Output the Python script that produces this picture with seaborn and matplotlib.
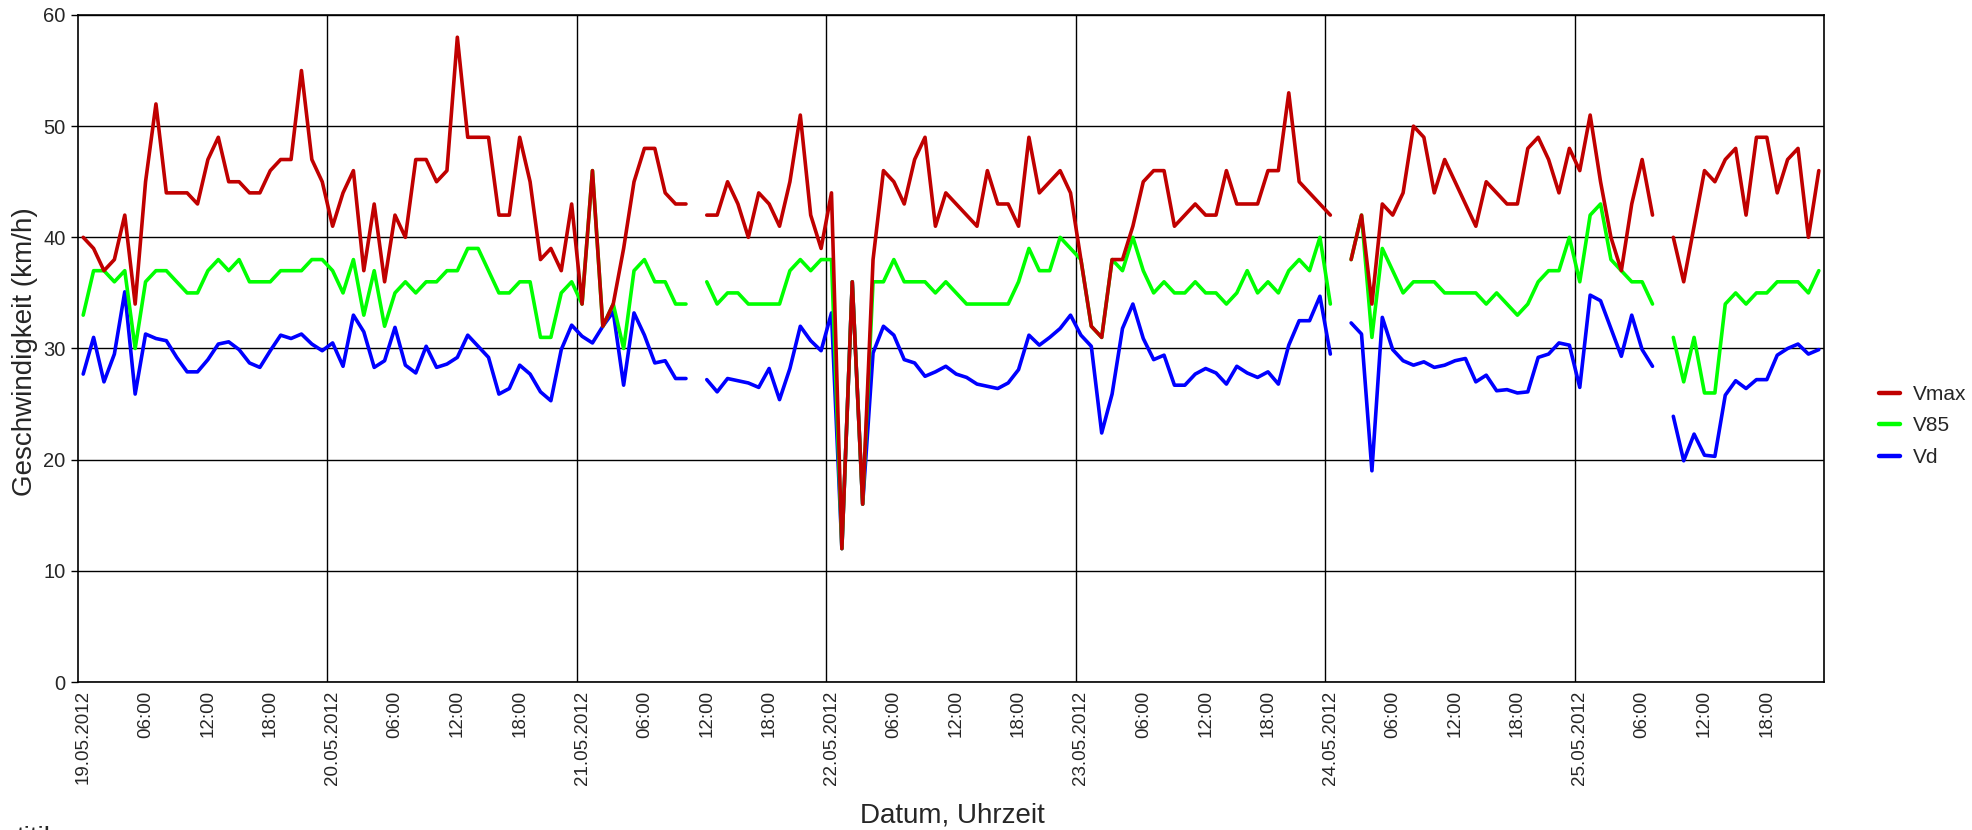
import numpy as np
import pandas as pd
import matplotlib
matplotlib.use("Agg")
import matplotlib.pyplot as plt
import seaborn as sns

sns.set_style("white")
plt.rcParams['font.family'] = ['Liberation Sans', 'DejaVu Sans']

nan = np.nan

# hourly values 19.05.2012 00:00 .. 25.05.2012 23:00, one row per day
vmax = [40, 39, 37, 38, 42, 34, 45, 52, 44, 44, 44, 43, 47, 49, 45, 45, 44, 44, 46, 47, 47, 55, 47, 45,
        41, 44, 46, 37, 43, 36, 42, 40, 47, 47, 45, 46, 58, 49, 49, 49, 42, 42, 49, 45, 38, 39, 37, 43,
        34, 46, 32, 34, 39, 45, 48, 48, 44, 43, 43, nan, 42, 42, 45, 43, 40, 44, 43, 41, 45, 51, 42, 39,
        44, 12, 36, 16, 38, 46, 45, 43, 47, 49, 41, 44, 43, 42, 41, 46, 43, 43, 41, 49, 44, 45, 46, 44,
        38, 32, 31, 38, 38, 41, 45, 46, 46, 41, 42, 43, 42, 42, 46, 43, 43, 43, 46, 46, 53, 45, 44, 43,
        42, nan, 38, 42, 34, 43, 42, 44, 50, 49, 44, 47, 45, 43, 41, 45, 44, 43, 43, 48, 49, 47, 44, 48,
        46, 51, 45, 40, 37, 43, 47, 42, nan, 40, 36, 41, 46, 45, 47, 48, 42, 49, 49, 44, 47, 48, 40, 46]

v85 = [33, 37, 37, 36, 37, 30, 36, 37, 37, 36, 35, 35, 37, 38, 37, 38, 36, 36, 36, 37, 37, 37, 38, 38,
       37, 35, 38, 33, 37, 32, 35, 36, 35, 36, 36, 37, 37, 39, 39, 37, 35, 35, 36, 36, 31, 31, 35, 36,
       34, 46, 32, 34, 30, 37, 38, 36, 36, 34, 34, nan, 36, 34, 35, 35, 34, 34, 34, 34, 37, 38, 37, 38,
       38, 12, 36, 16, 36, 36, 38, 36, 36, 36, 35, 36, 35, 34, 34, 34, 34, 34, 36, 39, 37, 37, 40, 39,
       38, 32, 31, 38, 37, 40, 37, 35, 36, 35, 35, 36, 35, 35, 34, 35, 37, 35, 36, 35, 37, 38, 37, 40,
       34, nan, 38, 42, 31, 39, 37, 35, 36, 36, 36, 35, 35, 35, 35, 34, 35, 34, 33, 34, 36, 37, 37, 40,
       36, 42, 43, 38, 37, 36, 36, 34, nan, 31, 27, 31, 26, 26, 34, 35, 34, 35, 35, 36, 36, 36, 35, 37]

vd = [27.7, 31.0, 27.0, 29.5, 35.1, 25.9, 31.3, 30.9, 30.7, 29.2, 27.9, 27.9, 29.0, 30.4, 30.6, 29.9, 28.7, 28.3, 29.8, 31.2, 30.9, 31.3, 30.4, 29.8,
      30.5, 28.4, 33.0, 31.5, 28.3, 28.9, 31.9, 28.5, 27.8, 30.2, 28.3, 28.6, 29.2, 31.2, 30.2, 29.2, 25.9, 26.4, 28.5, 27.7, 26.1, 25.3, 29.9, 32.1,
      31.1, 30.5, 32.0, 33.3, 26.7, 33.2, 31.2, 28.7, 28.9, 27.3, 27.3, nan, 27.2, 26.1, 27.3, 27.1, 26.9, 26.5, 28.2, 25.4, 28.2, 32.0, 30.7, 29.8,
      33.2, 12.0, 36.0, 16.0, 29.6, 32.0, 31.2, 29.0, 28.7, 27.5, 27.9, 28.4, 27.7, 27.4, 26.8, 26.6, 26.4, 26.9, 28.1, 31.2, 30.3, 31.0, 31.8, 33.0,
      31.2, 30.2, 22.4, 25.9, 31.8, 34.0, 30.9, 29.0, 29.4, 26.7, 26.7, 27.7, 28.2, 27.8, 26.8, 28.4, 27.8, 27.4, 27.9, 26.8, 30.3, 32.5, 32.5, 34.7,
      29.5, nan, 32.3, 31.3, 19.0, 32.8, 29.9, 28.9, 28.5, 28.8, 28.3, 28.5, 28.9, 29.1, 27.0, 27.6, 26.2, 26.3, 26.0, 26.1, 29.2, 29.5, 30.5, 30.3,
      26.5, 34.8, 34.3, 31.8, 29.3, 33.0, 29.9, 28.4, nan, 23.9, 19.9, 22.3, 20.4, 20.3, 25.8, 27.1, 26.4, 27.2, 27.2, 29.4, 30.0, 30.4, 29.5, 29.9]

days = ["19.05.2012", "20.05.2012", "21.05.2012", "22.05.2012",
        "23.05.2012", "24.05.2012", "25.05.2012"]
hours_lbl = ["06:00", "12:00", "18:00"]

colors = {"Vmax": "#C00000", "V85": "#00FF00", "Vd": "#0000FF"}

hours = np.arange(len(vmax))
frames = []
for name, vals in [("Vd", vd), ("V85", v85), ("Vmax", vmax)]:
    s = pd.Series(vals, dtype=float)
    d = pd.DataFrame({"hour": hours, "value": s, "series": name,
                      "seg": s.isna().cumsum()})
    frames.append(d.dropna())
df = pd.concat(frames, ignore_index=True)

fig, ax = plt.subplots(figsize=(19.72, 8.30), dpi=100)
fig.subplots_adjust(left=78/1972, right=1824/1972, bottom=1-682/830, top=1-15/830)

# gaps in the data are kept by drawing each segment as its own unit
sns.lineplot(data=df, x="hour", y="value", hue="series", units="seg",
             estimator=None, hue_order=["Vd", "V85", "Vmax"], palette=colors,
             lw=2.6, ax=ax)

ax.set_xlim(-0.5, len(vmax) - 0.5)
ax.set_ylim(0, 60)
ax.set_yticks(range(0, 61, 10))
ax.yaxis.grid(True, color="black", lw=1)
ax.set_axisbelow(True)
for k in range(1, len(days)):
    ax.axvline(24 * k - 0.5, color="black", lw=1, zorder=0.5)

xt = list(range(0, len(vmax), 6))
xl = [days[t // 24] if t % 24 == 0 else hours_lbl[(t % 24) // 6 - 1] for t in xt]
ax.set_xticks(xt)
ax.set_xticklabels(xl, rotation=90, fontsize=13.5)
ax.tick_params(axis="x", length=0, pad=6)
ax.tick_params(axis="y", direction="out", length=5, width=1, color="black",
               labelsize=14.5, left=True, pad=4)
for sp in ax.spines.values():
    sp.set_color("black")
    sp.set_linewidth(1.2)

ax.set_xlabel("")
ax.set_ylabel("")
fig.text(952/1972, 1-815/830, "Datum, Uhrzeit", ha="center", va="center", fontsize=20)
fig.text(25/1972, 1-352/830, "Geschwindigkeit (km/h)", ha="center", va="center",
         rotation=90, fontsize=20)
# only the top of this footer line shows at the bottom edge
fig.text(17/1972, 1-846/830, "titil", ha="left", va="baseline", fontsize=20)

handles, labels = ax.get_legend_handles_labels()
leg = ax.legend(handles[::-1], labels[::-1], loc="center left", bbox_to_anchor=(1.021, 0.384),
                frameon=False, fontsize=15, handlelength=1.0, handletextpad=0.6,
                labelspacing=0.6)
for ln in leg.get_lines():
    ln.set_linewidth(3.2)

fig.savefig("out.png", dpi=100)
